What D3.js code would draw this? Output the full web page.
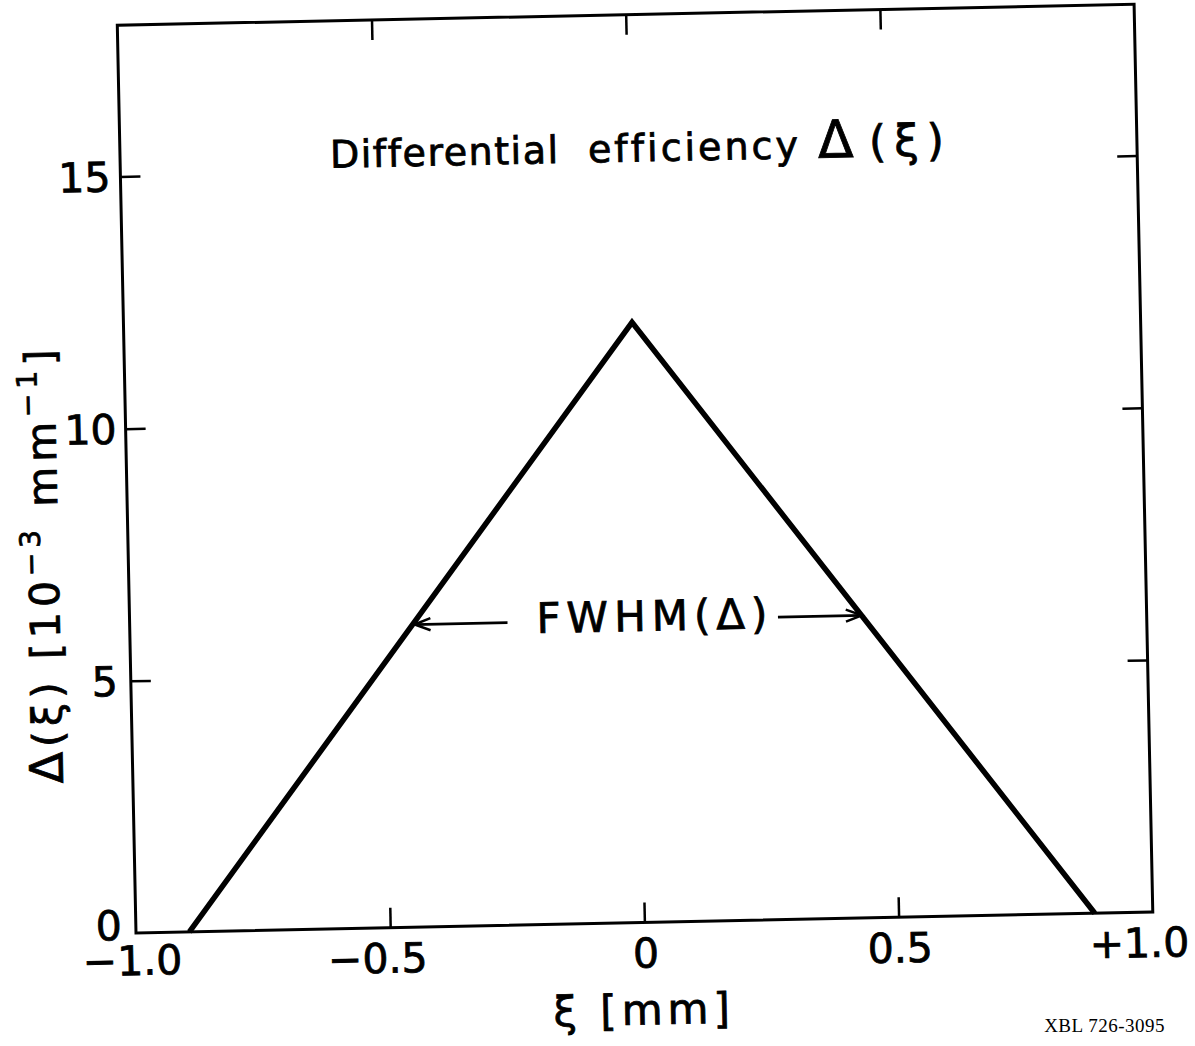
<!DOCTYPE html>
<html><head><meta charset="utf-8">
<script src="https://cdn.jsdelivr.net/npm/d3@7"></script>
<style>body{margin:0;background:#fff} .ink{stroke:#000;stroke-width:0.8px;fill:#000}</style>
</head><body><svg id="c" width="1195" height="1046"></svg>
<script>
// ---- data ----
const triX = [-0.895, 0.0, 0.886];
const triY = [0, 11.9, 0];
const xTickValues = [-1.0, -0.5, 0, 0.5, 1.0];
const xTickLabels = ["\u22121.0", "\u22120.5", "0", "0.5", "+1.0"];
const yTickValues = [0, 5, 10, 15];
const yTickLabels = ["0", "5", "10", "15"];
const fwhmLevel = 6.0;
const fwhmTips = [-0.44, 0.44];
const fwhmTails = [-0.257, 0.275];

// ---- layout ----
const L = 136, B = 933, W = 1017, H = 908;
const x = d3.scaleLinear([-1, 1], [L, L + W]);
const y = d3.scaleLinear([0, 18], [B, B - H]);
const font = "'DejaVu Sans', sans-serif";

const svg = d3.select("#c");
svg.append("rect").attr("width", 1195).attr("height", 1046).attr("fill", "#fff");
const g = svg.append("g").attr("transform", `rotate(-1.18 ${L} ${B})`);

// frame
g.append("rect").attr("x", L).attr("y", B - H).attr("width", W).attr("height", H)
  .attr("fill", "none").attr("stroke", "#000").attr("stroke-width", 3);

function styleAxis(sel) {
  sel.select(".domain").remove();
  sel.selectAll(".tick line").attr("stroke", "#000").attr("stroke-width", 2.5);
  sel.selectAll(".tick text").remove();
}
const innerX = xTickValues.filter(v => v > -1 && v < 1);
const innerY = yTickValues.filter(v => v > 0);
g.append("g").attr("transform", `translate(0,${B})`)
  .call(d3.axisBottom(x).tickValues(innerX).tickSize(-20).tickFormat("")).call(styleAxis);
g.append("g").attr("transform", `translate(0,${B - H})`)
  .call(d3.axisTop(x).tickValues(innerX).tickSize(-20).tickFormat("")).call(styleAxis);
g.append("g").attr("transform", `translate(${L},0)`)
  .call(d3.axisLeft(y).tickValues(innerY).tickSize(-20).tickFormat("")).call(styleAxis);
g.append("g").attr("transform", `translate(${L + W},0)`)
  .call(d3.axisRight(y).tickValues(innerY).tickSize(-20).tickFormat("")).call(styleAxis);

// x tick labels
const xdx = [-4, -13, 1, 1, -14];
g.selectAll(".xl").data(xTickValues).join("text").attr("class", "ink")
  .attr("x", (d, i) => x(d) + xdx[i]).attr("y", (d, i) => B + (i === 0 ? 42 : 45))
  .attr("text-anchor", "middle").attr("font-family", font).attr("font-size", 41)
  .text((d, i) => xTickLabels[i]);

// y tick labels
const ydx = [-14, -13, -9, -10];
const ydy = [-8, 0, 0, 0];
g.selectAll(".yl").data(yTickValues).join("text").attr("class", "ink")
  .attr("x", (d, i) => L + ydx[i]).attr("y", (d, i) => y(d) + ydy[i])
  .attr("dy", "0.36em").attr("text-anchor", "end")
  .attr("font-family", font).attr("font-size", 41)
  .text((d, i) => yTickLabels[i]);

// triangle
const line = d3.line().x(d => x(d[0])).y(d => y(d[1]));
g.append("path").attr("d", line(triX.map((v, i) => [v, triY[i]])))
  .attr("fill", "none").attr("stroke", "#000").attr("stroke-width", 5.5)
  .attr("stroke-linejoin", "miter");

// FWHM arrows
fwhmTips.forEach((t, i) => {
  const yy = y(fwhmLevel);
  const x0 = x(fwhmTails[i]), x1 = x(t);
  const dir = Math.sign(x1 - x0);
  g.append("line").attr("x1", x0).attr("y1", yy).attr("x2", x1).attr("y2", yy)
    .attr("stroke", "#000").attr("stroke-width", 2.8);
  g.append("path")
    .attr("d", `M${x1 - dir * 16},${yy - 6} L${x1},${yy} L${x1 - dir * 16},${yy + 6}`)
    .attr("fill", "none").attr("stroke", "#000").attr("stroke-width", 2.5);
});
g.append("text").attr("class", "ink").attr("x", x(fwhmTails[0]) + 29).attr("y", y(fwhmLevel) + 11)
  .attr("font-family", font).attr("font-size", 42).attr("letter-spacing", 6)
  .text("FWHM(\u0394)");

// title
const title = g.append("text").attr("class", "ink").attr("x", 346).attr("y", 172)
  .attr("font-family", font).attr("font-size", 38).attr("letter-spacing", 1.5);
title.append("tspan").text("Differential");
title.append("tspan").attr("x", 604).attr("letter-spacing", 3).text("efficiency");
title.append("tspan").attr("x", 834).attr("font-size", 52).text("\u0394");
title.append("tspan").attr("dx", 14).attr("font-size", 44).attr("letter-spacing", 8).text("(\u03BE)");

// x axis label
g.append("text").attr("class", "ink").attr("x", x(0) - 2).attr("y", B + 102).attr("text-anchor", "middle")
  .attr("font-family", font).attr("font-size", 42).attr("letter-spacing", 5)
  .text("\u03BE [mm]");

// y axis label
const yl = g.append("text").attr("class", "ink").attr("transform", `translate(${L - 70},${y(7.35)}) rotate(-90)`)
  .attr("text-anchor", "middle").attr("font-family", font).attr("font-size", 41)
  .attr("letter-spacing", 5);
yl.append("tspan").attr("font-size", 46).text("\u0394");
yl.append("tspan").text("(\u03BE) [10");
yl.append("tspan").attr("font-size", 28).attr("dy", -18).text("\u22123");
yl.append("tspan").attr("dy", 18).text(" mm");
yl.append("tspan").attr("font-size", 28).attr("dy", -18).text("\u22121");
yl.append("tspan").attr("dy", 18).text("]");

// catalog number
svg.append("text").attr("x", 1165).attr("y", 1032).attr("text-anchor", "end")
  .attr("font-family", "'Liberation Serif', serif").attr("font-size", 19)
  .attr("letter-spacing", 0.5).text("XBL 726-3095");
</script></body></html>
